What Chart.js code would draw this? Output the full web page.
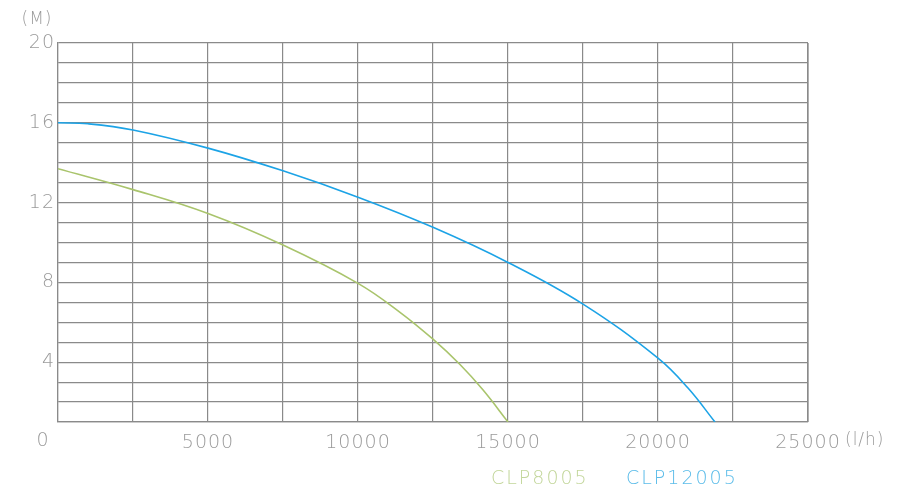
<!DOCTYPE html>
<html>
<head>
<meta charset="utf-8">
<script src="https://cdn.jsdelivr.net/npm/chart.js@4"></script>
<style>
  html, body { margin: 0; padding: 0; background: #fff; }
  #wrap { width: 900px; height: 500px; position: relative; }
</style>
</head>
<body>
<div id="wrap"><canvas id="c" width="900" height="500"></canvas></div>
<script>
// Flow (l/h) and head (M)
const flowCLP8005 = [0, 2500, 5000, 7500, 10000, 11400, 12500, 13400, 14170, 15000];
const headCLP8005 = [13.7, 12.65, 11.45, 9.87, 7.95, 6.5, 5.15, 3.88, 2.6, 1.0];
const flowCLP12005 = [0, 1000, 2500, 5000, 7500, 10000, 12500, 15000, 17500, 20000, 21000, 21900];
const headCLP12005 = [16.0, 15.95, 15.64, 14.73, 13.59, 12.27, 10.76, 9.0, 6.91, 4.2, 2.7, 1.0];
const seriesNames = ['CLP8005', 'CLP12005'];
const xTickLabels = [5000, 10000, 15000, 20000, 25000];
const yTickLabels = [20, 16, 12, 8, 4];

const FONT = "'DejaVu Sans', sans-serif";
const TXT = '#9a9a9a';
const GRID = '#8a8a8a';
const colors = ['#a9c46c', '#1ca3e6'];
const legendColors = ['#c2d69a', '#5bbce9'];

function pts(xs, ys) { return xs.map((x, i) => ({ x: x, y: ys[i] })); }

const spacing = {
  id: 'spacing',
  beforeDraw(chart) { chart.ctx.letterSpacing = '1px'; }
};

const extraText = {
  id: 'extraText',
  afterDraw(chart) {
    const ctx = chart.ctx;
    const ys = chart.scales.y;
    ctx.save();
    ctx.letterSpacing = '1px';
    ctx.font = "200 19px " + FONT;
    ctx.fillStyle = TXT;
    ctx.textBaseline = 'middle';
    ctx.textAlign = 'center';
    ctx.fillText('0', 43, ys.getPixelForValue(0) - 1);
    ctx.font = "200 17px " + FONT;
    ctx.fillText('(M)', 37, 20);
    ctx.textAlign = 'left';
    ctx.fillText('(l/h)', 845, 441);
    ctx.letterSpacing = '2px';
    ctx.font = "200 19px " + FONT;
    ctx.fillStyle = legendColors[0];
    ctx.fillText(seriesNames[0], 491, 479);
    ctx.fillStyle = legendColors[1];
    ctx.fillText(seriesNames[1], 626, 479);
    ctx.restore();
  }
};

new Chart(document.getElementById('c'), {
  type: 'line',
  data: {
    datasets: [
      { label: seriesNames[0], data: pts(flowCLP8005, headCLP8005), borderColor: colors[0], borderWidth: 1.6, pointRadius: 0, tension: 0.4, fill: false },
      { label: seriesNames[1], data: pts(flowCLP12005, headCLP12005), borderColor: colors[1], borderWidth: 1.6, pointRadius: 0, tension: 0.4, fill: false }
    ]
  },
  options: {
    responsive: false,
    animation: false,
    layout: { padding: { top: 43, right: 92, left: 0, bottom: 0 } },
    plugins: { legend: { display: false }, tooltip: { enabled: false } },
    scales: {
      x: {
        type: 'linear', min: 0, max: 25000,
        afterFit(s) { s.height = 78; },
        afterBuildTicks(s) { const t = []; for (let v = 0; v <= 25000; v += 2500) t.push({ value: v }); s.ticks = t; },
        grid: { color: GRID, lineWidth: 1.2, drawTicks: false },
        border: { color: GRID, width: 1.2 },
        ticks: {
          autoSkip: false, maxRotation: 0, padding: 10, color: TXT,
          font: { family: FONT, size: 19, weight: '200' },
          callback: (v) => xTickLabels.includes(v) ? String(v) : ''
        }
      },
      y: {
        type: 'linear', min: 1, max: 20,
        afterFit(s) { s.width = 58; },
        afterBuildTicks(s) { const t = []; for (let v = 1; v <= 20; v += 1) t.push({ value: v }); s.ticks = t; },
        grid: { color: GRID, lineWidth: 1.2, drawTicks: false },
        border: { color: GRID, width: 1.2 },
        ticks: {
          autoSkip: false, padding: 3, color: TXT,
          font: { family: FONT, size: 19, weight: '200' },
          callback: (v) => yTickLabels.includes(v) ? String(v) : ''
        }
      }
    }
  },
  plugins: [spacing, extraText, {
    id: 'rightBorder',
    afterDraw(chart) {
      const a = chart.chartArea, ctx = chart.ctx;
      ctx.save(); ctx.strokeStyle = GRID; ctx.lineWidth = 1.2;
      ctx.beginPath(); ctx.moveTo(a.right, a.top); ctx.lineTo(a.right, a.bottom); ctx.stroke();
      ctx.restore();
    }
  }]
});
</script>
</body>
</html>
